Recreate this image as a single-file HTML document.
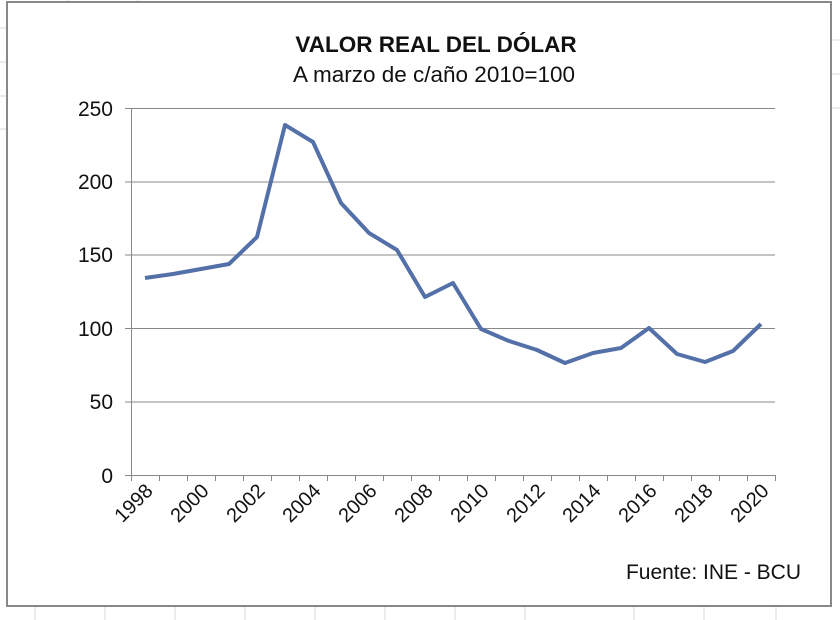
<!DOCTYPE html>
<html><head><meta charset="utf-8"><style>body{margin:0;background:#fff}svg{display:block}</style></head><body>
<svg width="840" height="620" xmlns="http://www.w3.org/2000/svg" font-family="Liberation Sans, sans-serif">
<rect width="840" height="620" fill="#fff"/>
<g stroke="#d8d8d8" stroke-width="1">
<line x1="0" y1="28" x2="7" y2="28"/><line x1="0" y1="62" x2="7" y2="62"/><line x1="0" y1="96" x2="7" y2="96"/><line x1="0" y1="129" x2="7" y2="129"/>
<line x1="831" y1="40" x2="840" y2="40"/><line x1="831" y1="74" x2="840" y2="74"/><line x1="831" y1="108" x2="840" y2="108"/>
<line x1="68" y1="0" x2="68" y2="2"/><line x1="138" y1="0" x2="138" y2="2"/>
<line x1="35" y1="606" x2="35" y2="620"/><line x1="105" y1="606" x2="105" y2="620"/><line x1="175" y1="606" x2="175" y2="620"/><line x1="245" y1="606" x2="245" y2="620"/><line x1="315" y1="606" x2="315" y2="620"/><line x1="385" y1="606" x2="385" y2="620"/><line x1="455" y1="606" x2="455" y2="620"/><line x1="525" y1="606" x2="525" y2="620"/><line x1="634" y1="606" x2="634" y2="620"/><line x1="704" y1="606" x2="704" y2="620"/><line x1="776" y1="606" x2="776" y2="620"/>
</g>
<rect x="7" y="2" width="824" height="604" fill="#fff" stroke="#888" stroke-width="2"/>
<text x="436" y="52" text-anchor="middle" font-size="22.5" font-weight="bold" fill="#111">VALOR REAL DEL DÓLAR</text>
<text x="434" y="82" text-anchor="middle" font-size="22.5" fill="#111">A marzo de c/año 2010=100</text>
<g stroke="#888" stroke-width="1">
<line x1="125" y1="108.5" x2="775" y2="108.5"/>
<line x1="125" y1="182" x2="775" y2="182"/>
<line x1="125" y1="255" x2="775" y2="255"/>
<line x1="125" y1="328.5" x2="775" y2="328.5"/>
<line x1="125" y1="402" x2="775" y2="402"/>
<line x1="125" y1="475.5" x2="775" y2="475.5"/>
<line x1="131.5" y1="108" x2="131.5" y2="476"/>
</g>
<g stroke="#888" stroke-width="1" id="ticks"></g>
<g font-size="21" fill="#111" text-anchor="end">
<text x="113" y="116">250</text><text x="113" y="189">200</text><text x="113" y="262">150</text><text x="113" y="336">100</text><text x="113" y="409">50</text><text x="113" y="483">0</text>
</g>
<g id="xl" font-size="20" fill="#111" text-anchor="end"></g>
<polyline fill="none" stroke="#5470a8" stroke-width="4" stroke-linejoin="round" points="145,278 173,274 201,269 229,264 257,237 285,125 313,142 341,203 369,233 397,250 425,297 453,283 481,329 509,341 537,350 565,363 593,353 621,348 649,328 677,354 705,362 733,351 761,324"/>
<text x="801" y="579" text-anchor="end" font-size="21" fill="#111">Fuente: INE - BCU</text>
<script>
var t=document.getElementById('ticks'),xl=document.getElementById('xl'),ns='http://www.w3.org/2000/svg';
for(var i=0;i<=23;i++){var x=131.5+i*28;var l=document.createElementNS(ns,'line');l.setAttribute('x1',x);l.setAttribute('x2',x);l.setAttribute('y1',475);l.setAttribute('y2',481);t.appendChild(l);}
for(var i=0;i<12;i++){var cx=145+i*56+9,cy=492;var e=document.createElementNS(ns,'text');e.setAttribute('x',cx);e.setAttribute('y',cy);e.setAttribute('transform','rotate(-45 '+cx+' '+cy+')');e.textContent=1998+2*i;xl.appendChild(e);}
</script>
</svg>
</body></html>
